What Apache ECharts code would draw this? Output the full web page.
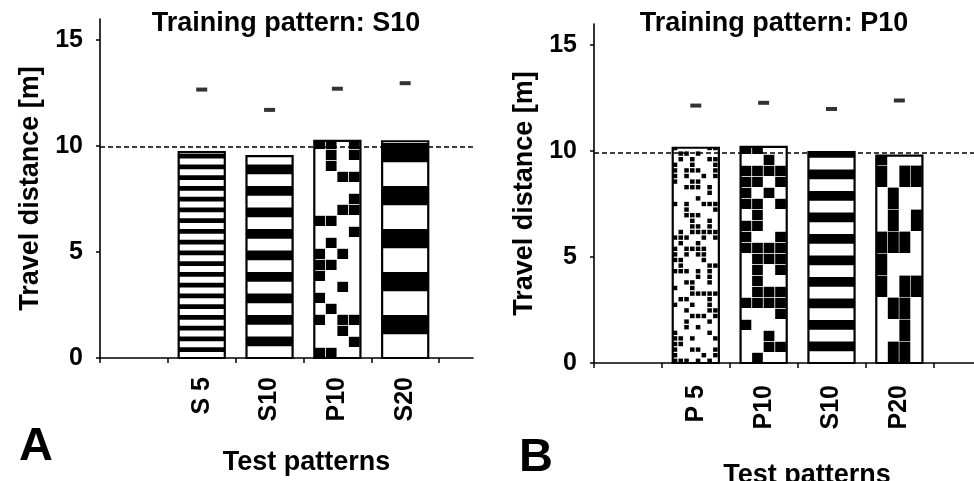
<!DOCTYPE html>
<html>
<head>
<meta charset="utf-8">
<script src="https://cdn.jsdelivr.net/npm/echarts@6/dist/echarts.min.js"></script>
<style>
html,body{margin:0;padding:0;background:#fff;}
#chart{width:974px;height:481px;}
</style>
</head>
<body>
<div id="chart"></div>
<script>
// ---------- data ----------
const categoriesA = ['S 5', 'S10', 'P10', 'S20'];
const meansA = [9.72, 9.53, 10.25, 10.23];
const upperA = [12.67, 11.71, 12.71, 12.97];
const refA = 9.95;

const categoriesB = ['P 5', 'P10', 'S10', 'P20'];
const meansB = [10.16, 10.2, 9.95, 9.79];
const upperB = [12.15, 12.28, 11.99, 12.39];
const refB = 9.93;

const yTicks = [0, 5, 10, 15];
const titleA = 'Training pattern: S10';
const titleB = 'Training pattern: P10';
const yName = 'Travel distance [m]';
const xName = 'Test patterns';

// ---------- helpers ----------
const FONT = "'Liberation Sans', Arial, Helvetica, sans-serif";
const firstSlot = 1.5; // first slot on the axis is left empty
function slots(arr) { return arr.map((_, i) => i + firstSlot); }

function hash(i, j, seed) {
  let h = (Math.imul(i + 1, 374761393) + Math.imul(j + 1, 668265263) + Math.imul(seed + 1, 1442695041)) | 0;
  h = Math.imul(h ^ (h >>> 13), 1274126177);
  h = h ^ (h >>> 16);
  return (h >>> 0) / 4294967296;
}

function patternChildren(label, left, top, w, baseY, seed) {
  const kind = label.charAt(0);
  const n = parseInt(label.replace(/\D/g, ''), 10);
  const out = [];
  const h = baseY - top;
  if (kind === 'S') {
    const p = n * 2.15;            // stripe period in px
    const b = p * 0.45;            // black band
    for (let y = baseY - (p - b); y > top - b; y -= p) {
      const y0 = Math.max(top, y - b);
      const y1 = y;
      if (y1 - y0 > 0.3) {
        out.push({type: 'rect', shape: {x: left, y: y0, width: w, height: y1 - y0}, style: {fill: '#000'}});
      }
    }
  } else {
    let cw, ch, dens, gap;
    if (n <= 5) { cw = w / 8; ch = 5.6; dens = 0.4; gap = 1.2; }
    else if (n <= 10) { cw = w / 4; ch = 11; dens = 0.4; gap = 0.8; }
    else { cw = w / 4; ch = 22; dens = 0.47; gap = 0.6; }
    const cols = Math.round(w / cw);
    const rows = Math.ceil(h / ch);
    for (let r = 0; r < rows; r++) {
      for (let c = 0; c < cols; c++) {
        if (hash(r, c, seed + n * 13) < dens) {
          const y1 = baseY - r * ch;
          const y0 = Math.max(top, y1 - ch + gap);
          if (y1 - y0 > 0.5) {
            out.push({type: 'rect', shape: {x: left + c * cw, y: y0, width: cw - gap, height: y1 - y0}, style: {fill: '#000'}});
          }
        }
      }
    }
  }
  return out;
}

function makeRender(cats, seed) {
  return function (params, api) {
    const x = api.value(0), v = api.value(1);
    const topPt = api.coord([x, v]);
    const basePt = api.coord([x, 0]);
    const w = api.size([0.68, 0])[0];
    const left = topPt[0] - w / 2;
    const children = [
      {type: 'rect', shape: {x: left, y: topPt[1], width: w, height: basePt[1] - topPt[1]}, style: {fill: '#fff'}}
    ];
    patternChildren(cats[params.dataIndex], left, topPt[1], w, basePt[1], seed + params.dataIndex * 7)
      .forEach(c => children.push(c));
    children.push({type: 'rect', shape: {x: left, y: topPt[1], width: w, height: basePt[1] - topPt[1]},
      style: {fill: 'none', stroke: '#000', lineWidth: 2.2}});
    return {type: 'group', children: children};
  };
}

function xAxisFor(gi, cats, maxV, labelMargin, nameGap, namePad) {
  const ticks = [];
  for (let t = 0; t <= Math.floor(maxV); t++) ticks.push(t);
  return {
    type: 'value', gridIndex: gi, min: 0, max: maxV,
    axisLine: {show: true, lineStyle: {color: '#000', width: 1.6}},
    axisTick: {show: true, length: 5, lineStyle: {color: '#000', width: 1.5}, customValues: ticks},
    axisLabel: {
      show: true, rotate: 90, margin: labelMargin, customValues: slots(cats),
      formatter: v => cats[Math.round(v - firstSlot)] || '',
      color: '#000', fontFamily: FONT, fontWeight: 'bold', fontSize: 25
    },
    splitLine: {show: false},
    name: xName, nameLocation: 'middle', nameGap: nameGap,
    nameTextStyle: {color: '#000', fontFamily: FONT, fontWeight: 'bold', fontSize: 27, padding: namePad}
  };
}

function yAxisFor(gi) {
  return {
    type: 'value', gridIndex: gi, min: 0, max: 16,
    axisLine: {show: true, lineStyle: {color: '#000', width: 1.6}},
    axisTick: {show: true, length: 4, lineStyle: {color: '#000', width: 1.5}, customValues: yTicks},
    axisLabel: {show: true, margin: 17, customValues: yTicks, color: '#000', fontFamily: FONT, fontWeight: 'bold', fontSize: 25},
    splitLine: {show: false},
    name: yName, nameLocation: 'middle', nameGap: 56,
    nameTextStyle: {color: '#000', fontFamily: FONT, fontWeight: 'bold', fontSize: 27}
  };
}

function seriesFor(idx, cats, means, upper, ref, seed) {
  return [
    {
      type: 'scatter', xAxisIndex: idx, yAxisIndex: idx, z: 2,
      symbol: 'rect', symbolSize: [11, 4], itemStyle: {color: '#000'},
      data: slots(cats).map((s, i) => [s, upper[i]]),
      silent: true,
      markLine: {
        silent: true, symbol: ['none', 'none'], label: {show: false},
        lineStyle: {color: '#000', type: [5, 3], width: 1.5},
        data: [{yAxis: ref}]
      }
    },
    {
      type: 'custom', xAxisIndex: idx, yAxisIndex: idx, z: 3,
      renderItem: makeRender(cats, seed),
      encode: {x: 0, y: 1},
      data: slots(cats).map((s, i) => [s, means[i]])
    }
  ];
}

const chart = echarts.init(document.getElementById('chart'), null, {renderer: 'canvas'});
chart.setOption({
  animation: false,
  backgroundColor: '#fff',
  title: [
    {text: titleA, left: 286, top: 10, textAlign: 'center', padding: 0,
      textStyle: {color: '#000', fontFamily: FONT, fontWeight: 'bold', fontSize: 27}},
    {text: titleB, left: 774, top: 10, textAlign: 'center', padding: 0,
      textStyle: {color: '#000', fontFamily: FONT, fontWeight: 'bold', fontSize: 27}},
    {text: 'A', left: 19, top: 424, padding: 0,
      textStyle: {color: '#000', fontFamily: FONT, fontWeight: 'bold', fontSize: 47}},
    {text: 'B', left: 519, top: 435, padding: 0,
      textStyle: {color: '#000', fontFamily: FONT, fontWeight: 'bold', fontSize: 47}}
  ],
  grid: [
    {left: 100, right: 501, top: 19, bottom: 123, outerBoundsMode: 'none', containLabel: false},
    {left: 594, right: 0, top: 24, bottom: 118, outerBoundsMode: 'none', containLabel: false}
  ],
  xAxis: [
    xAxisFor(0, categoriesA, 5.5, 19, 91, [0, 0, 0, 40]),
    xAxisFor(1, categoriesB, 5.6, 22, 99, [0, 0, 0, 46])
  ],
  yAxis: [yAxisFor(0), yAxisFor(1)],
  series: [].concat(
    seriesFor(0, categoriesA, meansA, upperA, refA, 3),
    seriesFor(1, categoriesB, meansB, upperB, refB, 11)
  )
});
</script>
</body>
</html>
